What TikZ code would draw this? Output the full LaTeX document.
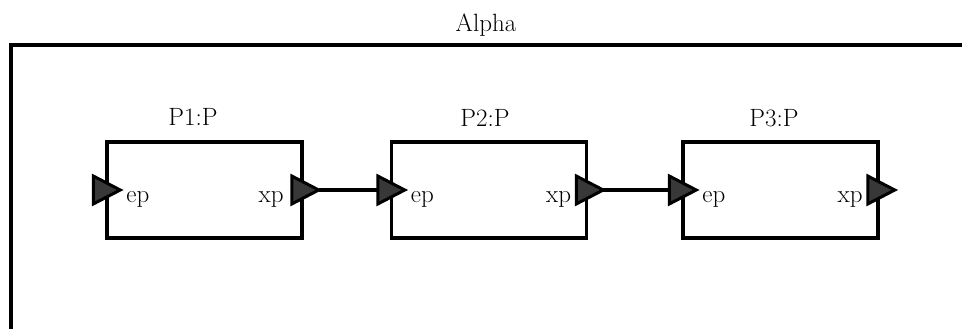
\documentclass[tikz,border=0pt]{standalone}
\usepackage{fontspec}
\begin{document}
\begin{tikzpicture}[x=1pt,y=-1pt,
  frame/.style={line width=3.5pt, line cap=rect},
  procbox/.style={draw, line width=3.5pt, minimum width=195pt, minimum height=96pt, inner sep=0pt},
  portstyle/.style={draw=black, fill=black!78, line width=3pt, line join=miter},
  conn/.style={line width=3.5pt},
  lbl/.style={font=\fontsize{25}{30}\selectfont, inner sep=0pt},
  portpic/.pic={
    \draw[portstyle] (-12,-14) -- (-12,14) -- (15,0) -- cycle;
    \coordinate (-tip) at (15,0);
    \coordinate (-back) at (-12,0);
  }]
\useasboundingbox (0,0) rectangle (962,329);
% outer frame
\coordinate (fTR) at (962,45);
\coordinate (fTL) at (11,45);
\coordinate (fBL) at (11,330);
\draw[frame] (fTR) -- (fTL) -- (fBL);
\node[lbl, anchor=base] (alpha) at (486,32) {Alpha};
% boxes
\node[procbox] (b1) at (204.5,190) {};
\node[procbox] (b2) at (489,190) {};
\node[procbox] (b3) at (780.5,190) {};
% box labels
\node[lbl, anchor=base] (l1) at (193,125) {P1:P};
\node[lbl, anchor=base] (l2) at (485,127) {P2:P};
\node[lbl, anchor=base] (l3) at (774,127) {P3:P};
% ports
\pic (p1in) at (b1.west) {portpic};
\pic (p1out) at (b1.east) {portpic};
\pic (p2in) at (b2.west) {portpic};
\pic (p2out) at (b2.east) {portpic};
\pic (p3in) at (b3.west) {portpic};
\pic (p3out) at (b3.east) {portpic};
% port labels
\node[lbl, anchor=base west] (e1) at ([xshift=21pt,yshift=-12pt]b1.west) {ep};
\node[lbl, anchor=base east] (x1) at ([xshift=-20pt,yshift=-12pt]b1.east) {xp};
\node[lbl, anchor=base west] (e2) at ([xshift=21pt,yshift=-12pt]b2.west) {ep};
\node[lbl, anchor=base east] (x2) at ([xshift=-17pt,yshift=-12pt]b2.east) {xp};
\node[lbl, anchor=base west] (e3) at ([xshift=21pt,yshift=-12pt]b3.west) {ep};
\node[lbl, anchor=base east] (x3) at ([xshift=-17pt,yshift=-12pt]b3.east) {xp};
% connectors
\draw[conn] (p1out-tip) -- (p2in-back);
\draw[conn] (p2out-tip) -- (p3in-back);
\end{tikzpicture}
\end{document}
